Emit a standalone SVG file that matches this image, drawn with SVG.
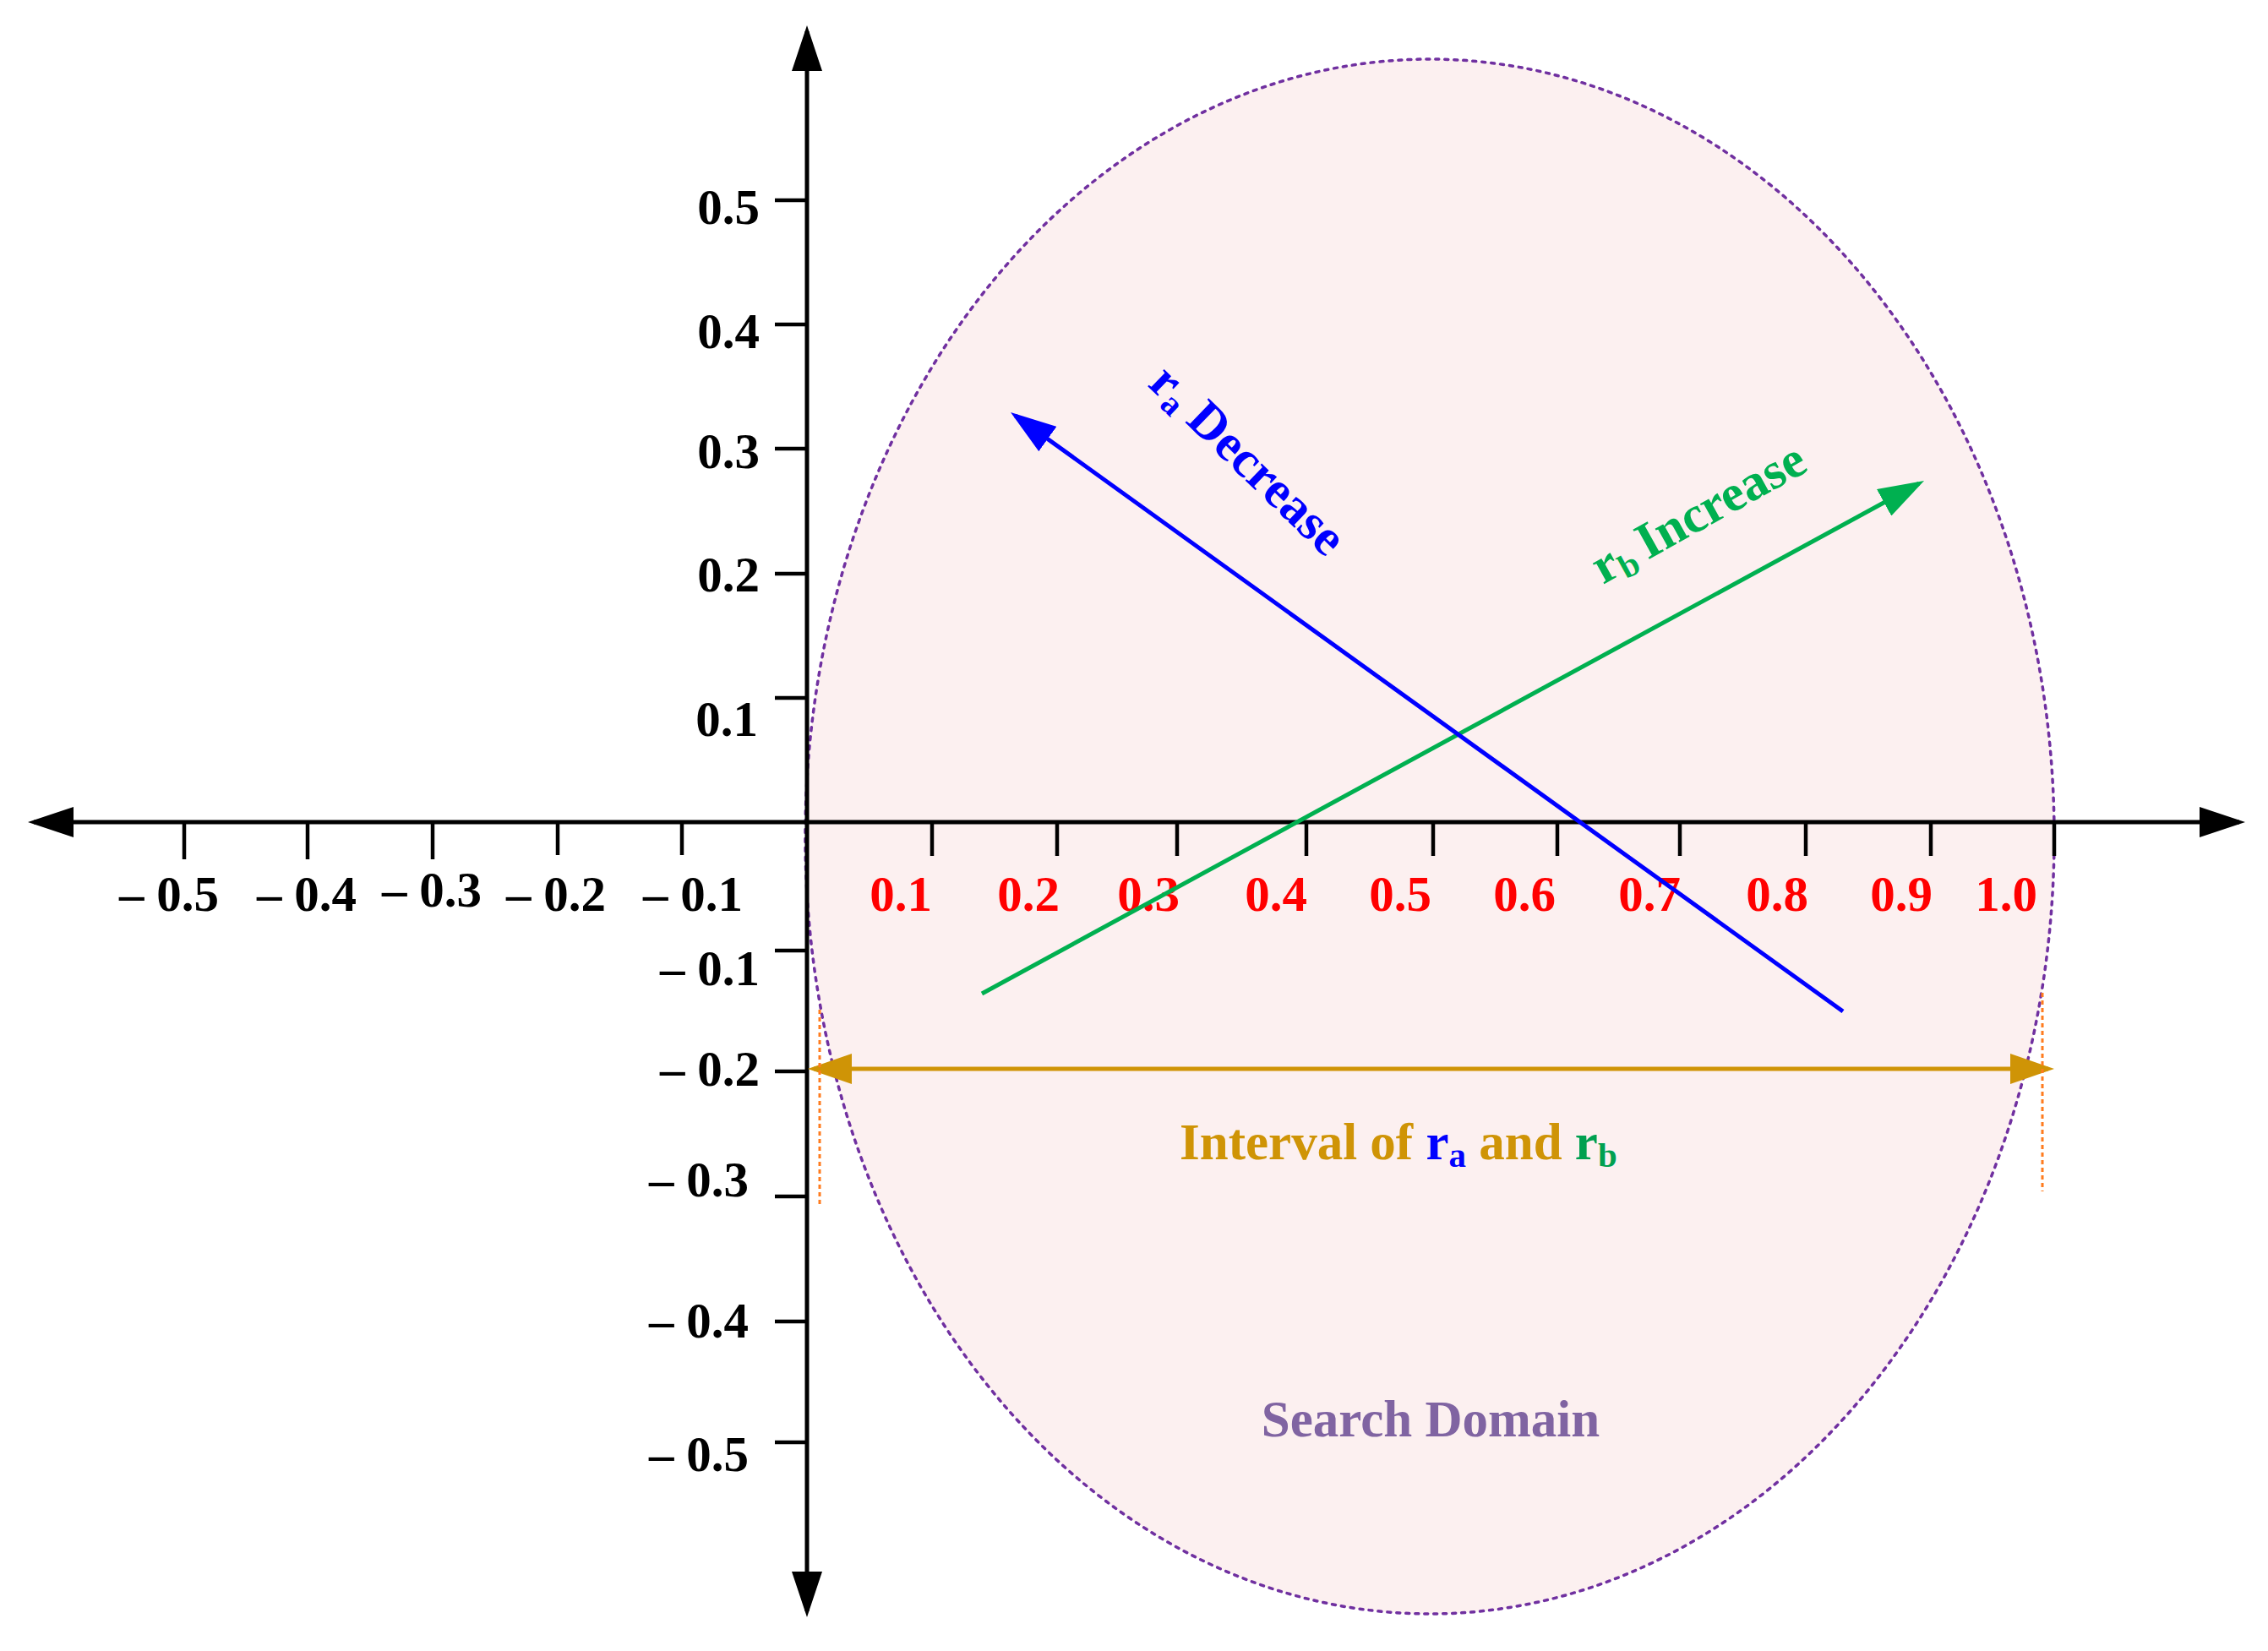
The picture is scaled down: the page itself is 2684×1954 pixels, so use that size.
<svg xmlns="http://www.w3.org/2000/svg" width="2684" height="1954" viewBox="0 0 2684 1954">
<style>
.lbl{font-family:"Liberation Serif","Times New Roman",serif;font-weight:bold;font-size:59px}
.blk{fill:#000}
.red{fill:#FF0000}
.tick{stroke:#000;stroke-width:4.5}
.big{font-family:"Liberation Serif","Times New Roman",serif;font-weight:bold;font-size:61px}
</style>
<defs>
<marker id="ahK" viewBox="0 0 54 36" refX="47" refY="18" markerWidth="54" markerHeight="36" markerUnits="userSpaceOnUse" orient="auto-start-reverse"><path d="M0,0 L54,18 L0,36 z" fill="#000"/></marker>
<marker id="ahG" viewBox="0 0 52 36" refX="45" refY="18" markerWidth="52" markerHeight="36" markerUnits="userSpaceOnUse" orient="auto-start-reverse"><path d="M0,0 L52,18 L0,36 z" fill="#CF9406"/></marker>
<marker id="ahB" viewBox="0 0 54 36" refX="47" refY="18" markerWidth="54" markerHeight="36" markerUnits="userSpaceOnUse" orient="auto"><path d="M0,0 L54,18 L0,36 z" fill="#0000FF"/></marker>
<marker id="ahN" viewBox="0 0 54 36" refX="47" refY="18" markerWidth="54" markerHeight="36" markerUnits="userSpaceOnUse" orient="auto"><path d="M0,0 L54,18 L0,36 z" fill="#00B050"/></marker>
</defs>
<rect width="2684" height="1954" fill="#FFFFFF"/>
<g id="search-domain">
<ellipse cx="1692" cy="990" rx="739" ry="920" fill="#FCF0F0" stroke="#7030A0" stroke-width="3.5" stroke-dasharray="4 7" stroke-linecap="round"/>
<text class="big" x="1693" y="1700" text-anchor="middle" fill="#8064A2">Search Domain</text>
</g>
<g id="axes">
<line x1="40" y1="973" x2="2650" y2="973" stroke="#000" stroke-width="5" marker-start="url(#ahK)" marker-end="url(#ahK)"/>
<line x1="955" y1="37" x2="955" y2="1907" stroke="#000" stroke-width="5" marker-start="url(#ahK)" marker-end="url(#ahK)"/>
</g>
<g id="x-ticks">
<line class="tick" x1="218" y1="973" x2="218" y2="1017"/>
<line class="tick" x1="364" y1="973" x2="364" y2="1017"/>
<line class="tick" x1="512" y1="973" x2="512" y2="1017"/>
<line class="tick" x1="660" y1="973" x2="660" y2="1012"/>
<line class="tick" x1="807" y1="973" x2="807" y2="1012"/>
<line class="tick" x1="1103" y1="973" x2="1103" y2="1013"/>
<line class="tick" x1="1251" y1="973" x2="1251" y2="1013"/>
<line class="tick" x1="1393" y1="973" x2="1393" y2="1013"/>
<line class="tick" x1="1546" y1="973" x2="1546" y2="1013"/>
<line class="tick" x1="1696" y1="973" x2="1696" y2="1013"/>
<line class="tick" x1="1843" y1="973" x2="1843" y2="1013"/>
<line class="tick" x1="1988" y1="973" x2="1988" y2="1013"/>
<line class="tick" x1="2137" y1="973" x2="2137" y2="1013"/>
<line class="tick" x1="2285" y1="973" x2="2285" y2="1013"/>
<line class="tick" x1="2431" y1="973" x2="2431" y2="1013"/>
</g>
<g id="y-ticks">
<line class="tick" x1="917" y1="237" x2="955" y2="237"/>
<line class="tick" x1="917" y1="384" x2="955" y2="384"/>
<line class="tick" x1="917" y1="531" x2="955" y2="531"/>
<line class="tick" x1="917" y1="679" x2="955" y2="679"/>
<line class="tick" x1="917" y1="826" x2="955" y2="826"/>
<line class="tick" x1="917" y1="1125" x2="955" y2="1125"/>
<line class="tick" x1="917" y1="1268" x2="955" y2="1268"/>
<line class="tick" x1="917" y1="1416" x2="955" y2="1416"/>
<line class="tick" x1="917" y1="1564" x2="955" y2="1564"/>
<line class="tick" x1="917" y1="1707" x2="955" y2="1707"/>
</g>
<g id="x-labels" class="lbl" text-anchor="middle">
<text class="blk" x="200" y="1078">– 0.5</text>
<text class="blk" x="363" y="1078">– 0.4</text>
<text class="blk" x="511" y="1073">– 0.3</text>
<text class="blk" x="658" y="1078">– 0.2</text>
<text class="blk" x="820" y="1078">– 0.1</text>
<text class="red" x="1066" y="1078">0.1</text>
<text class="red" x="1217" y="1078">0.2</text>
<text class="red" x="1359" y="1078">0.3</text>
<text class="red" x="1510" y="1078">0.4</text>
<text class="red" x="1657" y="1078">0.5</text>
<text class="red" x="1804" y="1078">0.6</text>
<text class="red" x="1952" y="1078">0.7</text>
<text class="red" x="2103" y="1078">0.8</text>
<text class="red" x="2250" y="1078">0.9</text>
<text class="red" x="2374" y="1078">1.0</text>
</g>
<g id="y-labels" class="lbl blk" text-anchor="end">
<text x="899" y="265">0.5</text>
<text x="899" y="412">0.4</text>
<text x="899" y="554">0.3</text>
<text x="899" y="700">0.2</text>
<text x="897" y="871">0.1</text>
<text x="899" y="1166">– 0.1</text>
<text x="899" y="1285">– 0.2</text>
<text x="886" y="1416">– 0.3</text>
<text x="886" y="1583">– 0.4</text>
<text x="886" y="1741">– 0.5</text>
</g>
<g id="connectors">
<line x1="1162" y1="1176" x2="2270.9" y2="572.3" stroke="#00B050" stroke-width="5" marker-end="url(#ahN)"/>
<line x1="2181" y1="1197" x2="1201.7" y2="492.1" stroke="#0000FF" stroke-width="5" marker-end="url(#ahB)"/>
<line x1="963" y1="1265" x2="2424" y2="1265" stroke="#CF9406" stroke-width="5" marker-start="url(#ahG)" marker-end="url(#ahG)"/>
<line x1="970" y1="1195" x2="970" y2="1428" stroke="#FF7C1F" stroke-width="3" stroke-dasharray="5 4"/>
<line x1="2417" y1="1175" x2="2417" y2="1410" stroke="#FF7C1F" stroke-width="3" stroke-dasharray="5 4"/>
</g>
<g id="ra-label">
<text class="big" fill="#0000FF" transform="translate(1357,456) rotate(44)">r<tspan font-size="40" dy="8">a</tspan><tspan dy="-8"> Decrease</tspan></text>
</g>
<g id="rb-label">
<text class="big" fill="#00B050" transform="translate(1897,692) rotate(-29)">r<tspan font-size="40" dy="8">b</tspan><tspan dy="-8" dx="-4"> Increase</tspan></text>
</g>
<g id="interval-label">
<text class="big" x="1396" y="1372" fill="#CF9406" font-size="62">Interval of <tspan fill="#0000FF">r</tspan><tspan fill="#0000FF" font-size="41" dy="9">a</tspan><tspan dy="-9"> and </tspan><tspan fill="#00A050">r</tspan><tspan fill="#00A050" font-size="41" dy="9">b</tspan></text>
</g>
</svg>
